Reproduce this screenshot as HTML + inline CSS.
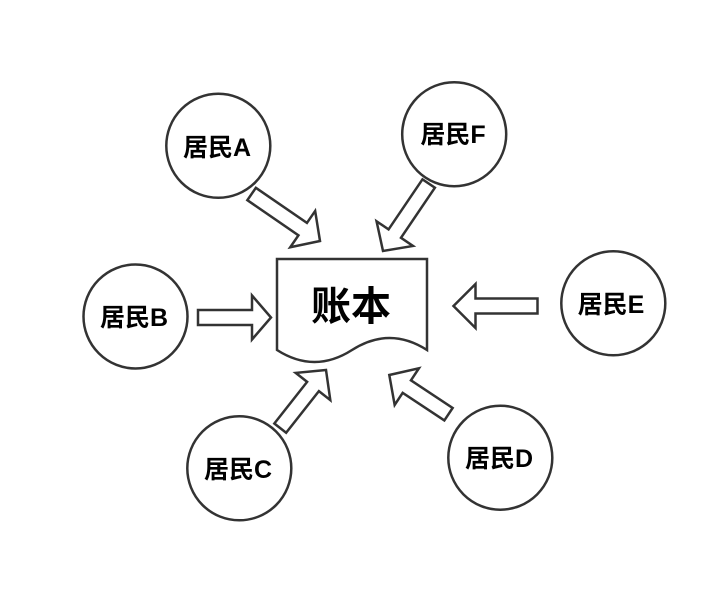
<!DOCTYPE html>
<html>
<head>
<meta charset="utf-8">
<style>
  html, body { margin: 0; padding: 0; background: #ffffff; }
  svg { display: block; }
  .lbl { font-family: "Liberation Sans", "Noto Sans CJK SC", sans-serif; font-weight: bold; font-size: 25px; fill: #000; }
  .big { font-family: "Liberation Sans", "Noto Sans CJK SC", sans-serif; font-weight: bold; font-size: 40px; fill: #000; }
</style>
</head>
<body>
<svg width="728" height="600" viewBox="0 0 728 600" xmlns="http://www.w3.org/2000/svg">
  <rect width="728" height="600" fill="#ffffff"/>
  <g fill="#ffffff" stroke="#333333" stroke-width="2.5" stroke-linejoin="miter">
    <!-- circles -->
    <circle cx="218.3" cy="145.8" r="52"/>
    <circle cx="454.2" cy="134.2" r="52"/>
    <circle cx="135.5" cy="316.5" r="52"/>
    <circle cx="613.3" cy="303.3" r="52"/>
    <circle cx="239.3" cy="468.3" r="52"/>
    <circle cx="500.3" cy="457.7" r="52"/>

    <!-- document -->
    <path d="M277,259 H427 V350 Q389.5,326 352,350 Q314.5,374 277,350 Z"/>

    <!-- arrows -->
    <g transform="translate(320,241) rotate(34.5)">
      <polygon points="-83,-7.5 -21,-7.5 -21,-22 0,0 -21,22 -21,7.5 -83,7.5"/>
    </g>
    <g transform="translate(383,251) rotate(124.1)">
      <polygon points="-81.5,-7.5 -21,-7.5 -21,-22 0,0 -21,22 -21,7.5 -81.5,7.5"/>
    </g>
    <g transform="translate(271,317.5) rotate(0)">
      <polygon points="-73,-7.5 -19,-7.5 -19,-22 0,0 -19,22 -19,7.5 -73,7.5"/>
    </g>
    <g transform="translate(453.5,306) rotate(180)">
      <polygon points="-84,-7.5 -22,-7.5 -22,-22 0,0 -22,22 -22,7.5 -84,7.5"/>
    </g>
    <g transform="translate(326,370) rotate(-51.8)">
      <polygon points="-74,-7.5 -21,-7.5 -21,-22 0,0 -21,22 -21,7.5 -74,7.5"/>
    </g>
    <g transform="translate(389.3,375) rotate(-146.5)">
      <polygon points="-71,-7.5 -21,-7.5 -21,-22 0,0 -21,22 -21,7.5 -71,7.5"/>
    </g>
  </g>

  <!-- labels -->
  <text class="big" x="351" y="307" text-anchor="middle" dominant-baseline="central">账本</text>
  <text class="lbl" x="217" y="148" text-anchor="middle" dominant-baseline="central">居民A</text>
  <text class="lbl" x="453" y="135" text-anchor="middle" dominant-baseline="central">居民F</text>
  <text class="lbl" x="134" y="318" text-anchor="middle" dominant-baseline="central">居民B</text>
  <text class="lbl" x="611" y="305" text-anchor="middle" dominant-baseline="central">居民E</text>
  <text class="lbl" x="238" y="470" text-anchor="middle" dominant-baseline="central">居民C</text>
  <text class="lbl" x="499" y="459" text-anchor="middle" dominant-baseline="central">居民D</text>
</svg>
</body>
</html>
